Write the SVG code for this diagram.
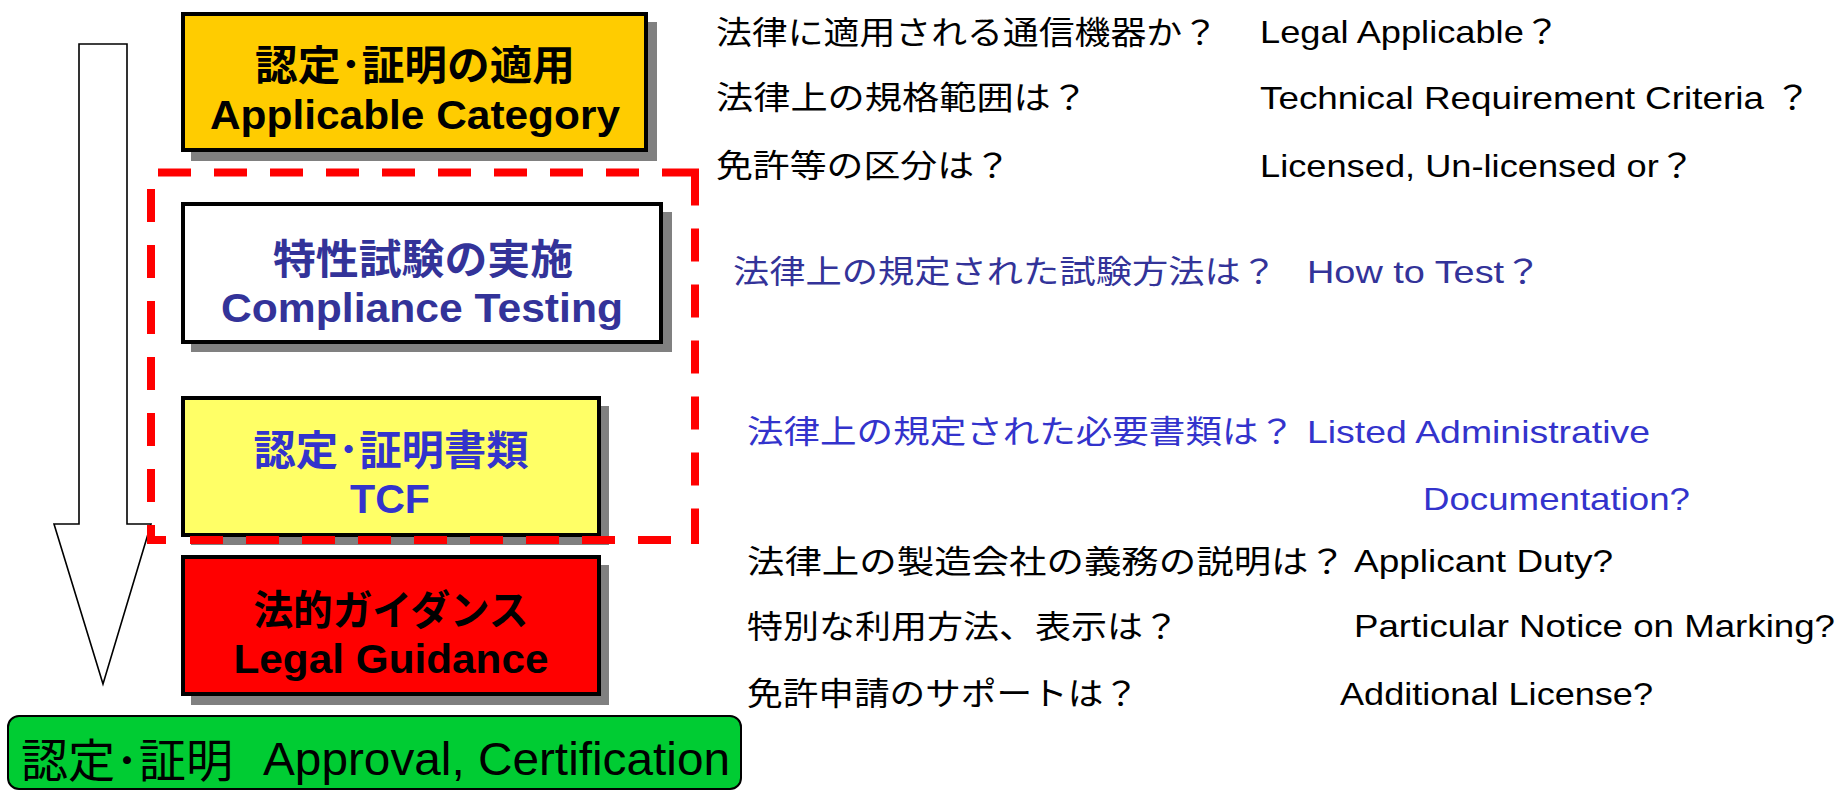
<svg xmlns="http://www.w3.org/2000/svg" width="1840" height="792" viewBox="0 0 1840 792">
<style>
text { font-family: "Liberation Sans", "Noto Sans CJK JP", sans-serif; }
.box { stroke: #000; stroke-width: 4; }
.shadow { fill: #808080; }
.bt { font-weight: bold; font-size: 41px; text-anchor: middle; }
.q { font-size: 32px; fill: #000; }
.navy { fill: #333399; }
.blue { fill: #3333CC; }
.frame { fill: none; stroke: #FF0000; stroke-width: 8; stroke-linecap: butt; }
</style>
<rect width="1840" height="792" fill="#fff"/>
<g id="connectors">
  <polygon id="flow-arrow" points="79,44 127,44 127,524 151,524 103,684 54,524 79,524" fill="#fff" stroke="#000" stroke-width="1.6" stroke-linejoin="miter"/>
</g>
<g id="n1">
  <rect class="shadow" x="191" y="22" width="466" height="139"/>
  <rect class="box" x="183" y="14" width="463" height="136" fill="#FFCC00"/>
  <text class="bt" x="415" y="80" fill="#000" textLength="320" lengthAdjust="spacingAndGlyphs">認定･証明の適用</text>
  <text class="bt" x="415" y="129" fill="#000" textLength="410" lengthAdjust="spacingAndGlyphs">Applicable Category</text>
</g>
<g id="n2">
  <rect class="shadow" x="191" y="212" width="481" height="140"/>
  <rect class="box" x="183" y="204" width="478" height="138" fill="#fff"/>
  <text class="bt navy" x="423" y="274" textLength="300" lengthAdjust="spacingAndGlyphs">特性試験の実施</text>
  <text class="bt navy" x="422" y="322" textLength="402" lengthAdjust="spacingAndGlyphs">Compliance Testing</text>
</g>
<g id="n3">
  <rect class="shadow" x="191" y="406" width="418" height="139"/>
  <rect class="box" x="183" y="398" width="416" height="137" fill="#FFFF66"/>
  <text class="bt blue" x="391" y="465" textLength="275" lengthAdjust="spacingAndGlyphs">認定･証明書類</text>
  <text class="bt blue" x="390" y="513" textLength="80" lengthAdjust="spacingAndGlyphs">TCF</text>
</g>
<g id="group-frame">
  <path class="frame" d="M158,172.5H191M214,172.5H247M270,172.5H303M326,172.5H359M382,172.5H415M438,172.5H471M494,172.5H527M550,172.5H583M606,172.5H639M662,172.5H699
  M695,168.5V205.5M695,228.5V261.5M695,284.5V317.5M695,340.5V373.5M695,396.5V429.5M695,452.5V485.5M695,508.5V544
  M190,540H223M246,540H279M302,540H335M358,540H391M414,540H447M470,540H503M526,540H559M582,540H615M638,540H671M147,540H166
  M151,189V222M151,245V278M151,301V334M151,357V390M151,413V446M151,469V502M151,525V544"/>
</g>
<g id="n4">
  <rect class="shadow" x="191" y="565" width="418" height="140"/>
  <rect class="box" x="183" y="557" width="416" height="137" fill="#FF0000"/>
  <text class="bt" x="391" y="625" fill="#000" textLength="275" lengthAdjust="spacingAndGlyphs">法的ガイダンス</text>
  <text class="bt" x="391" y="673" fill="#000" textLength="315" lengthAdjust="spacingAndGlyphs">Legal Guidance</text>
</g>
<g id="approval">
  <rect x="8" y="716" width="733" height="73" rx="11" ry="11" fill="#00CC33" stroke="#000" stroke-width="2"/>
  <text font-size="46" fill="#000"><tspan x="21" y="777" textLength="212" lengthAdjust="spacingAndGlyphs">認定･証明</tspan><tspan x="263" y="775" textLength="467" lengthAdjust="spacingAndGlyphs">Approval, Certification</tspan></text>
</g>
<g id="questions">
  <text class="q" x="716" y="44" textLength="502" lengthAdjust="spacingAndGlyphs">法律に適用される通信機器か？</text>
  <text class="q" x="1260" y="43" textLength="300" lengthAdjust="spacingAndGlyphs">Legal Applicable？</text>
  <text class="q" x="716" y="109" textLength="372" lengthAdjust="spacingAndGlyphs">法律上の規格範囲は？</text>
  <text class="q" x="1260" y="109" textLength="551" lengthAdjust="spacingAndGlyphs">Technical Requirement Criteria ？</text>
  <text class="q" x="716" y="177" textLength="295" lengthAdjust="spacingAndGlyphs">免許等の区分は？</text>
  <text class="q" x="1260" y="177" textLength="435" lengthAdjust="spacingAndGlyphs">Licensed, Un-licensed or？</text>
  <text class="q navy" x="733" y="283" textLength="544" lengthAdjust="spacingAndGlyphs">法律上の規定された試験方法は？</text>
  <text class="q navy" x="1307" y="283" textLength="235" lengthAdjust="spacingAndGlyphs">How to Test？</text>
  <text class="q blue" x="747" y="443" textLength="548" lengthAdjust="spacingAndGlyphs">法律上の規定された必要書類は？</text>
  <text class="q blue" x="1307" y="443" textLength="343" lengthAdjust="spacingAndGlyphs">Listed Administrative</text>
  <text class="q blue" x="1423" y="510" textLength="267" lengthAdjust="spacingAndGlyphs">Documentation?</text>
  <text class="q" x="747" y="573" textLength="599" lengthAdjust="spacingAndGlyphs">法律上の製造会社の義務の説明は？</text>
  <text class="q" x="1354" y="572" textLength="259" lengthAdjust="spacingAndGlyphs">Applicant Duty?</text>
  <text class="q" x="747" y="638" textLength="432" lengthAdjust="spacingAndGlyphs">特別な利用方法、表示は？</text>
  <text class="q" x="1354" y="637" textLength="481" lengthAdjust="spacingAndGlyphs">Particular Notice on Marking?</text>
  <text class="q" x="747" y="705" textLength="392" lengthAdjust="spacingAndGlyphs">免許申請のサポートは？</text>
  <text class="q" x="1340" y="705" textLength="313" lengthAdjust="spacingAndGlyphs">Additional License?</text>
</g>
</svg>
